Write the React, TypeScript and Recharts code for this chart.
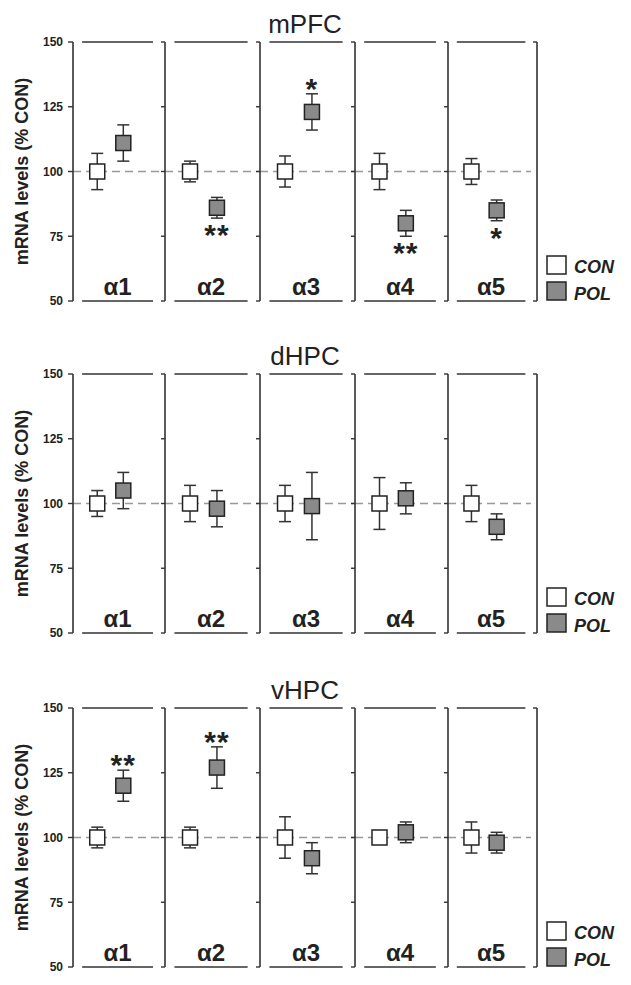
import React from "react";
import { ScatterChart, Scatter, XAxis, YAxis, ErrorBar, ReferenceLine } from "recharts";

const regions = ["mPFC", "dHPC", "vHPC"];
const subunits = ["α1", "α2", "α3", "α4", "α5"];
const groups = ["CON", "POL"];
const yTicks = [50, 75, 100, 125, 150];

// mRNA levels (% CON), mean and SEM, per subunit
const mpfcCon = [100, 100, 100, 100, 100];
const mpfcConSem = [7, 4, 6, 7, 5];
const mpfcPol = [111, 86, 123, 80, 85];
const mpfcPolSem = [7, 4, 7, 5, 4];
const mpfcSig = ["", "**", "*", "**", "*"];
const mpfcSigSide = ["", "below", "above", "below", "below"];

const dhpcCon = [100, 100, 100, 100, 100];
const dhpcConSem = [5, 7, 7, 10, 7];
const dhpcPol = [105, 98, 99, 102, 91];
const dhpcPolSem = [7, 7, 13, 6, 5];
const dhpcSig = ["", "", "", "", ""];
const dhpcSigSide = ["", "", "", "", ""];

const vhpcCon = [100, 100, 100, 100, 100];
const vhpcConSem = [4, 4, 8, 1, 6];
const vhpcPol = [120, 127, 92, 102, 98];
const vhpcPolSem = [6, 8, 6, 4, 4];
const vhpcSig = ["**", "**", "", "", ""];
const vhpcSigSide = ["above", "above", "", "", ""];

const regionData = [
  { con: mpfcCon, conSem: mpfcConSem, pol: mpfcPol, polSem: mpfcPolSem, sig: mpfcSig, side: mpfcSigSide },
  { con: dhpcCon, conSem: dhpcConSem, pol: dhpcPol, polSem: dhpcPolSem, sig: dhpcSig, side: dhpcSigSide },
  { con: vhpcCon, conSem: vhpcConSem, pol: vhpcPol, polSem: vhpcPolSem, sig: vhpcSig, side: vhpcSigSide },
];

const FONT = "'Liberation Sans', Arial, Helvetica, sans-serif";
const INK = "#222";
const LINE = "#333";
const POL_FILL = "#8a8a8a";
const ROW_TOPS = [42, 374, 708];
const PLOT_H = 259;
const DIVIDERS = [73, 165, 260, 355, 448, 537];
const X_DOMAIN: [number, number] = [0.07, 3.6];
const EDGE_FROM = 0.42;
const EDGE_TO = 3.14;
const LAST_DASH_END = 3.36;

const square = (fill: string) => (props: any) => (
  <rect x={props.cx - 7.5} y={props.cy - 7.5} width={15} height={15} fill={fill} stroke={INK} strokeWidth={1.5} />
);

const starShape = (props: any) => {
  const { cx, cy, payload } = props;
  const dy = payload.side === "above" ? 5 : 27;
  return (
    <text x={cx} y={cy + dy} textAnchor="middle" fontSize={30} fontWeight="bold" fontFamily={FONT} fill={INK} letterSpacing={1}>
      {payload.sig}
    </text>
  );
};

const noTick = () => <g />;

function Panel({ r, i }: { r: number; i: number }) {
  const d = regionData[r];
  const first = i === 0;
  const last = i === subunits.length - 1;
  const left = first ? 0 : DIVIDERS[i] - 5;
  const pad = last ? 3 : 0;
  const width = DIVIDERS[i + 1] - left + pad;

  const con = [{ x: 1, y: d.con[i], err: d.conSem[i], group: groups[0] }];
  const pol = [{ x: 2, y: d.pol[i], err: d.polSem[i], group: groups[1] }];
  const stars = d.sig[i]
    ? [{ x: 2, y: d.side[i] === "above" ? d.pol[i] + d.polSem[i] : d.pol[i] - d.polSem[i], sig: d.sig[i], side: d.side[i] }]
    : [];

  return (
    <div style={{ position: "absolute", left, top: ROW_TOPS[r] - 10 }}>
      <ScatterChart width={width} height={PLOT_H + 20} margin={{ top: 10, right: pad, bottom: 10, left: 0 }}>
        <XAxis type="number" dataKey="x" domain={X_DOMAIN} allowDataOverflow hide />
        <YAxis
          type="number"
          dataKey="y"
          domain={[50, 150]}
          ticks={yTicks}
          allowDataOverflow
          width={first ? 73 : 5}
          tick={first ? { fontSize: 12, fontWeight: "bold", fill: INK, fontFamily: FONT } : noTick}
          tickSize={first ? 5 : 4}
          tickMargin={5}
          axisLine={{ stroke: LINE, strokeWidth: 1.6 }}
          tickLine={{ stroke: LINE, strokeWidth: 1.4 }}
          label={
            first
              ? {
                  value: "mRNA levels (% CON)",
                  angle: -90,
                  position: "insideLeft",
                  offset: 22,
                  fill: INK,
                  fontSize: 18,
                  fontWeight: "bold",
                  fontFamily: FONT,
                  style: { textAnchor: "middle" },
                }
              : undefined
          }
        />
        {last && (
          <YAxis
            yAxisId="r"
            orientation="right"
            mirror
            type="number"
            domain={[50, 150]}
            ticks={[50, 150]}
            allowDataOverflow
            width={4}
            tick={noTick}
            tickSize={4}
            axisLine={{ stroke: LINE, strokeWidth: 1.6 }}
            tickLine={{ stroke: LINE, strokeWidth: 1.4 }}
          />
        )}
        <ReferenceLine
          segment={[
            { x: X_DOMAIN[0], y: 100 },
            { x: last ? LAST_DASH_END : X_DOMAIN[1], y: 100 },
          ]}
          stroke="#999"
          strokeDasharray="8 5"
          strokeWidth={1.5}
        />
        <ReferenceLine
          segment={[
            { x: EDGE_FROM, y: 150 },
            { x: EDGE_TO, y: 150 },
          ]}
          stroke={LINE}
          strokeWidth={1.6}
        />
        <ReferenceLine
          segment={[
            { x: EDGE_FROM, y: 50 },
            { x: EDGE_TO, y: 50 },
          ]}
          stroke={LINE}
          strokeWidth={1.6}
          label={{ value: subunits[i], position: "top", offset: 6, fontSize: 24, fontWeight: "bold", fill: INK, fontFamily: FONT }}
        />
        <Scatter data={con} shape={square("#fff")} isAnimationActive={false}>
          <ErrorBar dataKey="err" direction="y" width={6} stroke={LINE} strokeWidth={1.5} />
        </Scatter>
        <Scatter data={pol} shape={square(POL_FILL)} isAnimationActive={false}>
          <ErrorBar dataKey="err" direction="y" width={6} stroke={LINE} strokeWidth={1.5} />
        </Scatter>
        <Scatter data={stars} shape={starShape} isAnimationActive={false} />
      </ScatterChart>
    </div>
  );
}

function RowDecor({ r }: { r: number }) {
  const top = ROW_TOPS[r];
  return (
    <>
      <text x={305} y={top - 9} textAnchor="middle" fontSize={26} fill={INK} fontFamily={FONT}>
        {regions[r]}
      </text>
      {groups.map((g, k) => (
        <g key={g}>
          <rect x={547} y={top + 214 + k * 26} width={19} height={18} fill={k === 0 ? "#fff" : POL_FILL} stroke={INK} strokeWidth={1.5} />
          <text x={574} y={top + 231 + k * 27} fontSize={18} fontWeight="bold" fontStyle="italic" fill={INK} fontFamily={FONT}>
            {g}
          </text>
        </g>
      ))}
    </>
  );
}

export default function App() {
  return (
    <div style={{ position: "absolute", left: 0, top: 0, width: 631, height: 985, background: "#fff", fontFamily: FONT }}>
      <svg width={631} height={985} style={{ position: "absolute", left: 0, top: 0 }}>
        {regions.map((_, r) => (
          <RowDecor key={r} r={r} />
        ))}
      </svg>
      {regions.map((_, r) => subunits.map((_, i) => <Panel key={`${r}-${i}`} r={r} i={i} />))}
    </div>
  );
}
